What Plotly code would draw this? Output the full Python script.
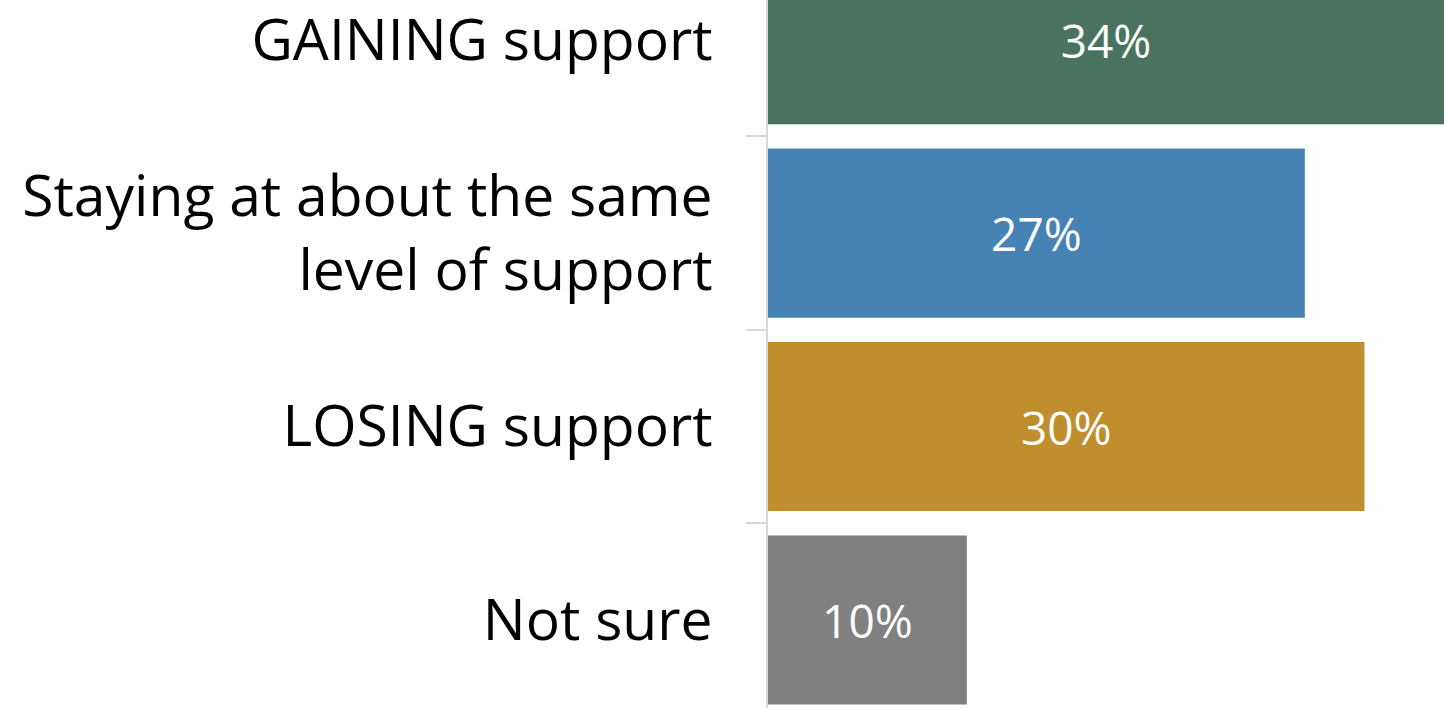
import plotly.graph_objects as go

categories = ["GAINING support", "Staying at about the same<br>level of support", "LOSING support", "Not sure"]
values = [34, 27, 30, 10]
colors = ["#4A735F", "#4682B4", "#C08E2C", "#808080"]
value_labels = ["34%", "27%", "30%", "10%"]

fig = go.Figure(go.Bar(
    x=values,
    y=categories,
    orientation="h",
    marker=dict(color=colors, line=dict(width=0)),
    text=value_labels,
    textposition="inside",
    insidetextanchor="middle",
    textfont=dict(color="white", size=46, family="Open Sans"),
    cliponaxis=True,
    hoverinfo="skip",
))

fig.update_layout(
    width=1450, height=708,
    margin=dict(l=768, r=6, t=0, b=0, autoexpand=False),
    paper_bgcolor="white", plot_bgcolor="white",
    bargap=0.126,
    showlegend=False,
    font=dict(family="Open Sans", color="black"),
    xaxis=dict(range=[0, 34], visible=False, showgrid=False, zeroline=False, automargin=False),
    yaxis=dict(
        type="category",
        categoryorder="array", categoryarray=categories,
        range=[3.455, -0.205],
        showline=True, linecolor="#d9d9d9", linewidth=2,
        ticks="outside", tickson="boundaries", ticklen=20, tickwidth=2, tickcolor="#d9d9d9",
        tickfont=dict(size=57, family="Open Sans", color="black"),
        ticklabelstandoff=42,
        showgrid=False, zeroline=False, automargin=False,
    ),
)

fig.write_html("out.html", config={"displayModeBar": False},
               post_script="document.body.style.margin='0';")
